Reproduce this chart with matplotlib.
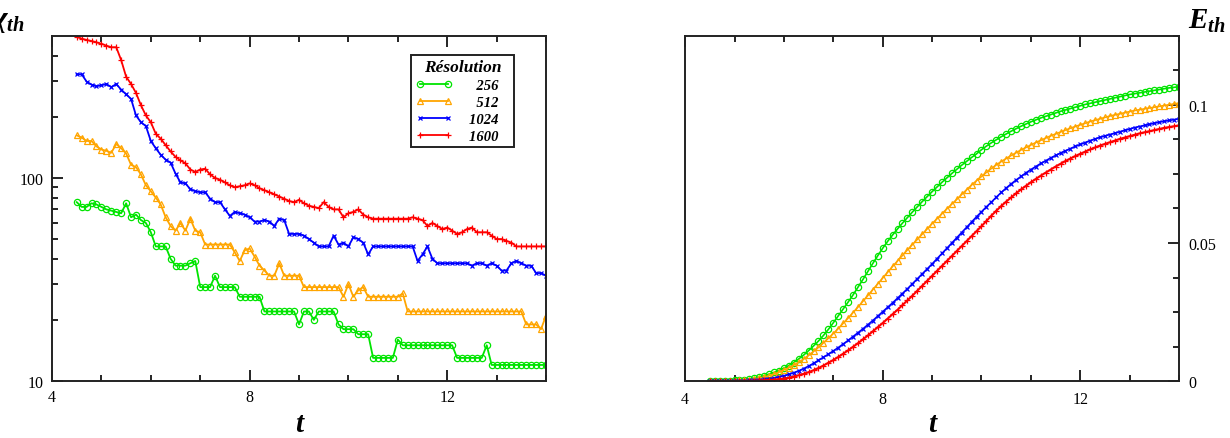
import numpy as np
import matplotlib
matplotlib.use("Agg")
import matplotlib.pyplot as plt
from matplotlib.ticker import MultipleLocator, FixedLocator, NullFormatter

plt.rcParams['font.family'] = ['Liberation Serif', 'DejaVu Serif']
plt.rcParams['mathtext.fontset'] = 'custom'
plt.rcParams['mathtext.it'] = 'Liberation Serif:bold:italic'
plt.rcParams['mathtext.rm'] = 'Liberation Serif:bold:italic'

# temps : 4.5 -> 14.0, pas de 0.1
t = np.linspace(4.5, 14.0, 96)

resolutions = ['256', '512', '1024', '1600']

# kappa_th (echelle log)
kappa_256 = [76, 72, 72, 75, 74,
             72, 70, 69, 68, 67, 75, 64, 66, 62, 60,
             54, 46, 46, 46, 40, 37, 37, 37, 38, 39,
             29, 29, 29, 33, 29, 29, 29, 29, 26, 26,
             26, 26, 26, 22, 22, 22, 22, 22, 22, 22,
             19, 22, 22, 20, 22, 22, 22, 22, 19, 18,
             18, 18, 17, 17, 17, 13, 13, 13, 13, 13,
             16, 15, 15, 15, 15, 15, 15, 15, 15, 15,
             15, 15, 13, 13, 13, 13, 13, 13, 15, 12,
             12, 12, 12, 12, 12, 12, 12, 12, 12, 12,
             12]
kappa_512 = [162, 158, 152, 152, 143,
             138, 136, 133, 147, 140, 132, 116, 113, 104, 92,
             86, 80, 74, 64, 58, 55, 60, 55, 63, 55,
             54, 47, 47, 47, 47, 47, 47, 43, 39, 44,
             45, 41, 37, 35, 33, 33, 38, 33, 33, 33,
             33, 29, 29, 29, 29, 29, 29, 29, 29, 26,
             30, 26, 28, 29, 26, 26, 26, 26, 26, 26,
             26, 27, 22, 22, 22, 22, 22, 22, 22, 22,
             22, 22, 22, 22, 22, 22, 22, 22, 22, 22,
             22, 22, 22, 22, 22, 22, 19, 19, 19, 18,
             21]
kappa_1024 = [324, 324, 298, 288, 283,
              286, 290, 280, 290, 272, 258, 245, 203, 188, 180,
              152, 140, 130, 123, 119, 105, 95, 94, 88, 86,
              85, 85, 79, 76, 76, 70, 65, 68, 67, 66,
              64, 61, 61, 62, 61, 58, 63, 62, 53, 53,
              53, 52, 50, 48, 46, 46, 46, 52, 47, 48,
              46, 51, 50, 48, 42, 46, 46, 46, 46, 46,
              46, 46, 46, 46, 39, 42, 46, 40, 38, 38,
              38, 38, 38, 38, 38, 37, 38, 38, 37, 38,
              37, 35, 35, 38, 39, 38, 37, 37, 34, 34,
              33]
kappa_1600 = [495, 485, 478, 472, 465,
              458, 448, 440, 440, 380, 315, 290, 262, 228, 203,
              188, 165, 156, 145, 135, 127, 122, 118, 110, 107,
              110, 111, 104, 100, 98, 95, 92, 90, 91, 92,
              94, 92, 89, 87, 85, 83, 81, 79, 77, 76,
              78, 75, 73, 72, 71, 76, 72, 70, 70, 64,
              67, 68, 70, 66, 64, 63, 63, 63, 63, 63,
              63, 63, 63, 64, 63, 62, 58, 60, 58, 56,
              57, 55, 53, 54, 56, 57, 54, 54, 54, 52,
              50, 50, 49, 48, 46, 46, 46, 46, 46, 46,
              46]

# E_th
E_256 = [0.0000, 0.0000, 0.0000, 0.0001, 0.0001,
         0.0002, 0.0003, 0.0005, 0.0007, 0.0010, 0.0014, 0.0019, 0.0025, 0.0031, 0.0038,
         0.0047, 0.0056, 0.0067, 0.0080, 0.0094, 0.0110, 0.0127, 0.0145, 0.0165, 0.0187,
         0.0211, 0.0236, 0.0261, 0.0286, 0.0312, 0.0340, 0.0368, 0.0397, 0.0426, 0.0454,
         0.0481, 0.0506, 0.0529, 0.0551, 0.0572, 0.0592, 0.0612, 0.0631, 0.0650, 0.0668,
         0.0686, 0.0703, 0.0720, 0.0736, 0.0752, 0.0767, 0.0782, 0.0796, 0.0810, 0.0823,
         0.0838, 0.0851, 0.0863, 0.0874, 0.0885, 0.0895, 0.0905, 0.0914, 0.0923, 0.0931,
         0.0939, 0.0946, 0.0953, 0.0959, 0.0965, 0.0971, 0.0977, 0.0982, 0.0987, 0.0992,
         0.0997, 0.1002, 0.1006, 0.1010, 0.1014, 0.1018, 0.1022, 0.1026, 0.1030, 0.1034,
         0.1038, 0.1041, 0.1044, 0.1047, 0.1050, 0.1053, 0.1056, 0.1059, 0.1062, 0.1064,
         0.1066]
E_512 = [0.0000, 0.0000, 0.0000, 0.0000, 0.0001,
         0.0001, 0.0002, 0.0003, 0.0005, 0.0007, 0.0010, 0.0014, 0.0019, 0.0025, 0.0032,
         0.0040, 0.0048, 0.0057, 0.0068, 0.0080, 0.0093, 0.0107, 0.0122, 0.0138, 0.0155,
         0.0172, 0.0190, 0.0209, 0.0228, 0.0248, 0.0268, 0.0289, 0.0310, 0.0331, 0.0352,
         0.0373, 0.0394, 0.0415, 0.0435, 0.0455, 0.0475, 0.0494, 0.0513, 0.0532, 0.0551,
         0.0570, 0.0588, 0.0606, 0.0624, 0.0641, 0.0658, 0.0676, 0.0693, 0.0710, 0.0726,
         0.0741, 0.0756, 0.0770, 0.0783, 0.0795, 0.0806, 0.0817, 0.0827, 0.0837, 0.0846,
         0.0855, 0.0864, 0.0872, 0.0880, 0.0888, 0.0895, 0.0902, 0.0909, 0.0916, 0.0922,
         0.0928, 0.0934, 0.0940, 0.0945, 0.0950, 0.0955, 0.0960, 0.0964, 0.0968, 0.0972,
         0.0976, 0.0980, 0.0983, 0.0986, 0.0989, 0.0992, 0.0995, 0.0998, 0.1001, 0.1004,
         0.1007]
E_1024 = [0.0000, 0.0000, 0.0000, 0.0000, 0.0000,
          0.0000, 0.0001, 0.0001, 0.0002, 0.0003, 0.0004, 0.0006, 0.0008, 0.0011, 0.0015,
          0.0019, 0.0024, 0.0030, 0.0037, 0.0045, 0.0054, 0.0064, 0.0075, 0.0086, 0.0097,
          0.0109, 0.0121, 0.0134, 0.0147, 0.0161, 0.0175, 0.0189, 0.0204, 0.0219, 0.0235,
          0.0251, 0.0267, 0.0283, 0.0300, 0.0317, 0.0334, 0.0352, 0.0370, 0.0388, 0.0406,
          0.0424, 0.0443, 0.0462, 0.0481, 0.0500, 0.0519, 0.0538, 0.0557, 0.0576, 0.0595,
          0.0613, 0.0631, 0.0648, 0.0666, 0.0683, 0.0699, 0.0714, 0.0728, 0.0741, 0.0754,
          0.0766, 0.0777, 0.0788, 0.0798, 0.0808, 0.0817, 0.0826, 0.0834, 0.0842, 0.0850,
          0.0857, 0.0864, 0.0871, 0.0877, 0.0883, 0.0888, 0.0893, 0.0898, 0.0903, 0.0908,
          0.0913, 0.0918, 0.0922, 0.0926, 0.0930, 0.0934, 0.0938, 0.0941, 0.0944, 0.0947,
          0.0950]
E_1600 = [0.0000, 0.0000, 0.0000, 0.0000, 0.0000,
          0.0000, 0.0000, 0.0000, 0.0001, 0.0001, 0.0002, 0.0003, 0.0004, 0.0005, 0.0007,
          0.0009, 0.0012, 0.0016, 0.0021, 0.0026, 0.0032, 0.0039, 0.0047, 0.0056, 0.0066,
          0.0076, 0.0087, 0.0099, 0.0111, 0.0124, 0.0137, 0.0151, 0.0165, 0.0180, 0.0195,
          0.0210, 0.0226, 0.0242, 0.0258, 0.0275, 0.0292, 0.0309, 0.0327, 0.0345, 0.0363,
          0.0381, 0.0399, 0.0417, 0.0435, 0.0453, 0.0471, 0.0489, 0.0507, 0.0525, 0.0543,
          0.0561, 0.0580, 0.0599, 0.0617, 0.0634, 0.0650, 0.0665, 0.0680, 0.0694, 0.0707,
          0.0720, 0.0732, 0.0744, 0.0755, 0.0766, 0.0777, 0.0787, 0.0797, 0.0806, 0.0815,
          0.0823, 0.0831, 0.0839, 0.0846, 0.0853, 0.0859, 0.0865, 0.0871, 0.0877, 0.0882,
          0.0887, 0.0892, 0.0897, 0.0901, 0.0905, 0.0909, 0.0913, 0.0917, 0.0920, 0.0923,
          0.0926]

kappa = [kappa_256, kappa_512, kappa_1024, kappa_1600]
energy = [E_256, E_512, E_1024, E_1600]

# style de chaque resolution
colors = ['#00e400', '#ffa500', '#0000ff', '#ff0000']
markers = ['o', '^', 'x', '+']
msizes = [4.5, 5, 3.5, 5]

fig = plt.figure(figsize=(12.3, 4.39), dpi=100)
ax1 = fig.add_axes([0.0423, 0.1298, 0.4016, 0.786])
ax2 = fig.add_axes([0.5570, 0.1298, 0.4016, 0.786])

for k in range(4):
    ax1.plot(t, kappa[k], color=colors[k], lw=1.3, marker=markers[k],
             ms=msizes[k], mfc='none', mew=0.9, label=resolutions[k])
    ax2.plot(t, energy[k], color=colors[k], lw=1.5 if k == 3 else 1.2,
             marker=markers[k], ms=msizes[k], mfc='none', mew=0.9)

# axe gauche
ax1.set_yscale('log')
ax1.set_xlim(4, 14)
ax1.set_ylim(10, 500)
ax1.xaxis.set_major_locator(FixedLocator([4, 8, 12]))
ax1.xaxis.set_minor_locator(MultipleLocator(1))
ax1.set_yticks([10, 100])
ax1.set_yticklabels(['10', '100'])
ax1.yaxis.set_minor_locator(FixedLocator([20, 30, 40, 50, 60, 70, 80, 90, 200, 300, 400]))
ax1.yaxis.set_minor_formatter(NullFormatter())
ax1.tick_params(which='both', direction='in', top=True, right=False,
                labelsize=11.5, width=1.2)
ax1.tick_params(which='major', length=8, pad=6)
ax1.tick_params(which='minor', length=4)

# axe droit
ax2.set_xlim(4, 14)
ax2.set_ylim(0, 0.125)
ax2.xaxis.set_major_locator(FixedLocator([4, 8, 12]))
ax2.xaxis.set_minor_locator(MultipleLocator(1))
ax2.set_yticks([0, 0.05, 0.1])
ax2.set_yticklabels(['0', '0.05', '0.1'])
ax2.yaxis.set_minor_locator(MultipleLocator(0.0125))
ax2.yaxis.tick_right()
ax2.tick_params(which='both', direction='in', top=True, left=False, right=True,
                labelsize=11.5, width=1.2)
ax2.tick_params(which='major', length=8, pad=7)
ax2.tick_params(which='minor', length=4)

for ax in (ax1, ax2):
    for s in ax.spines.values():
        s.set_linewidth(1.4)
        s.set_color('#222222')
    ax.set_xlabel('t', fontsize=21, fontweight='bold', fontstyle='italic')
    ax.xaxis.set_label_coords(0.5, -0.085)

fig.text(-0.008, 0.95, r'$\chi_{th}$', fontsize=21, va='center', ha='left')
fig.text(0.966, 0.952, r'$E_{th}$', fontsize=21, va='center', ha='left')

# legende (etiquettes alignees a droite avec des espaces de chiffre)
labels = ['\u2007256\u2007\u2009', '\u2007512\u2007\u2009',
          '1024\u2007\u2009', '1600\u2007\u2009']
handles, _ = ax1.get_legend_handles_labels()
leg = ax1.legend(handles, labels, title='Résolution', loc='upper left',
                 bbox_to_anchor=(0.727, 0.945), borderaxespad=0, numpoints=2,
                 handlelength=2.5, handletextpad=1.2, labelspacing=0.25,
                 borderpad=0.3, fancybox=False, framealpha=1, edgecolor='#222222',
                 prop={'size': 10.5, 'weight': 'bold', 'style': 'italic'})
leg.get_frame().set_linewidth(1.4)
leg.get_title().set_fontsize(12.5)
leg.get_title().set_fontweight('bold')
leg.get_title().set_fontstyle('italic')

fig.savefig('out.png', dpi=100)
